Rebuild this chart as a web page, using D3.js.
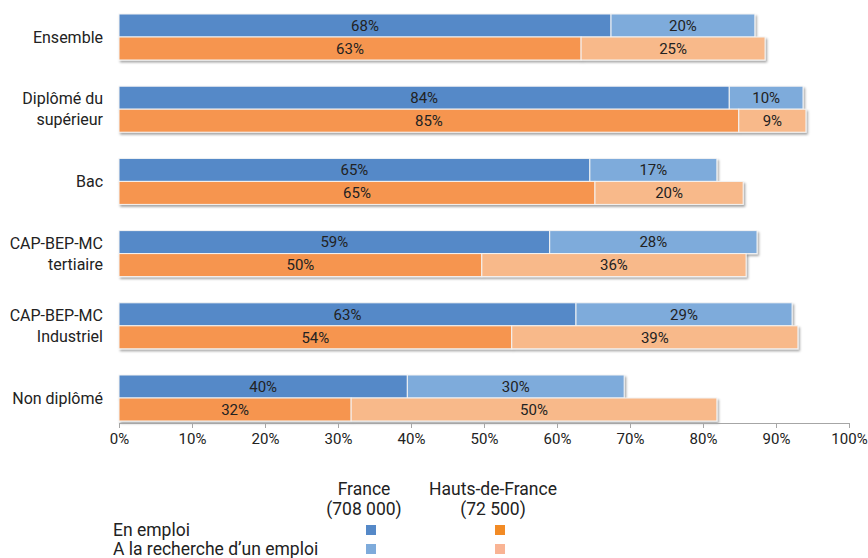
<!DOCTYPE html>
<html>
<head>
<meta charset="utf-8">
<script src="https://cdn.jsdelivr.net/npm/d3@7"></script>
<style>
  body { margin: 0; background: #fff; }
  text { font-family: Roboto, "Open Sans", sans-serif; fill: #222; }
</style>
</head>
<body>
<div id="chart"></div>
<script>
// Data
var categories = ["Ensemble", "Diplômé du|supérieur", "Bac", "CAP-BEP-MC|tertiaire", "CAP-BEP-MC|Industriel", "Non diplômé"];
var franceEmploi = [67.4, 83.6, 64.5, 59.0, 62.6, 39.5];
var franceRecherche = [19.7, 10.1, 17.4, 28.4, 29.6, 29.7];
var hdfEmploi = [63.3, 84.9, 65.2, 49.7, 53.8, 31.8];
var hdfRecherche = [25.2, 9.2, 20.3, 36.2, 39.2, 50.1];
var franceLabels = [["68%", "20%"], ["84%", "10%"], ["65%", "17%"], ["59%", "28%"], ["63%", "29%"], ["40%", "30%"]];
var hdfLabels = [["63%", "25%"], ["85%", "9%"], ["65%", "20%"], ["50%", "36%"], ["54%", "39%"], ["32%", "50%"]];
var xTicks = [0, 10, 20, 30, 40, 50, 60, 70, 80, 90, 100];

var svgWidth = 868;
var svgHeight = 558;

var svg = d3.select("#chart")
  .append("svg")
  .attr("width", svgWidth)
  .attr("height", svgHeight);

// soft shadow under the bars
var defs = svg.append("defs");
var filt = defs.append("filter").attr("id", "shadow")
  .attr("x", "-5%").attr("y", "-20%").attr("width", "110%").attr("height", "150%");
filt.append("feDropShadow")
  .attr("dx", 1.5).attr("dy", 2).attr("stdDeviation", 1.2)
  .attr("flood-color", "#000").attr("flood-opacity", 0.35);

var x = d3.scaleLinear().domain([0, 100]).range([119, 849]);

var y = d3.scaleBand()
  .domain(categories)
  .range([14, 421])
  .paddingInner(0.363)
  .paddingOuter(0);

var barH = y.bandwidth() / 2;

var colors = {
  fE: "#5589c8", fR: "#7eabdb",
  hE: "#f6954f", hR: "#f8b98a"
};

var rows = categories.map(function(c, i) {
  return { cat: c, i: i };
});

var rowG = svg.selectAll("g.row")
  .data(rows)
  .enter()
  .append("g")
  .attr("class", "row");

function drawPair(sel, yOff, emploi, recherche, labels, cE, cR) {
  var g = sel.append("g").attr("filter", "url(#shadow)");
  g.append("rect")
    .attr("x", d => x(0))
    .attr("y", d => y(d.cat) + yOff)
    .attr("width", d => x(emploi[d.i]) - x(0))
    .attr("height", barH)
    .attr("fill", cE)
    .attr("stroke", "#f4f4f4")
    .attr("stroke-width", 1);
  g.append("rect")
    .attr("x", d => x(emploi[d.i]))
    .attr("y", d => y(d.cat) + yOff)
    .attr("width", d => x(emploi[d.i] + recherche[d.i]) - x(emploi[d.i]))
    .attr("height", barH)
    .attr("fill", cR)
    .attr("stroke", "#f4f4f4")
    .attr("stroke-width", 1);
  sel.append("text")
    .attr("x", d => (x(0) + x(emploi[d.i])) / 2)
    .attr("y", d => y(d.cat) + yOff + barH / 2)
    .attr("dy", "0.35em")
    .attr("text-anchor", "middle")
    .attr("font-size", "15px")
    .text(d => labels[d.i][0]);
  sel.append("text")
    .attr("x", d => (x(emploi[d.i]) + x(emploi[d.i] + recherche[d.i])) / 2)
    .attr("y", d => y(d.cat) + yOff + barH / 2)
    .attr("dy", "0.35em")
    .attr("text-anchor", "middle")
    .attr("font-size", "15px")
    .text(d => labels[d.i][1]);
}

drawPair(rowG, 0, franceEmploi, franceRecherche, franceLabels, colors.fE, colors.fR);
drawPair(rowG, barH, hdfEmploi, hdfRecherche, hdfLabels, colors.hE, colors.hR);

// category labels
rowG.each(function(d) {
  var lines = d.cat.split("|");
  var cy = y(d.cat) + barH;
  var t = d3.select(this).append("text")
    .attr("text-anchor", "end")
    .attr("font-size", "16px");
  lines.forEach(function(l, k) {
    t.append("tspan")
      .attr("x", 103)
      .attr("y", cy + (k - (lines.length - 1) / 2) * 21)
      .attr("dy", "0.35em")
      .text(l);
  });
});

// x axis
var xAxis = d3.axisBottom(x)
  .tickValues(xTicks)
  .tickFormat(d => d + "%")
  .tickSize(5)
  .tickSizeOuter(0);

var axisG = svg.append("g")
  .attr("transform", "translate(0, 423)")
  .call(xAxis);
axisG.select(".domain").attr("stroke", "#a6a6a6");
axisG.selectAll(".tick line").attr("stroke", "#a6a6a6");
axisG.selectAll(".tick text")
  .attr("font-size", "15px")
  .attr("font-family", "Roboto, sans-serif")
  .attr("fill", "#222")
  .attr("dy", "0.85em");

// legend
var legendCols = [
  { title: ["France", "(708 000)"], cx: 364, c: [colors.fE, colors.fR] },
  { title: ["Hauts-de-France", "(72 500)"], cx: 493, c: ["#f28b25", "#f9b494"] }
];
var legendRows = ["En emploi", "A la recherche d\u2019un emploi"];
var legendY = [530, 549];

var legend = svg.append("g");
legendCols.forEach(function(col) {
  col.title.forEach(function(t, k) {
    legend.append("text")
      .attr("x", col.cx)
      .attr("y", 489 + k * 20)
      .attr("dy", "0.35em")
      .attr("text-anchor", "middle")
      .attr("font-size", "17.5px")
      .text(t);
  });
  legendY.forEach(function(ly, k) {
    legend.append("rect")
      .attr("x", col.cx + 2)
      .attr("y", ly - 5)
      .attr("width", 10)
      .attr("height", 10)
      .attr("fill", col.c[k]);
  });
});
legendRows.forEach(function(t, k) {
  legend.append("text")
    .attr("x", 113)
    .attr("y", legendY[k])
    .attr("dy", "0.35em")
    .attr("font-size", "17.5px")
    .text(t);
});
</script>
</body>
</html>
